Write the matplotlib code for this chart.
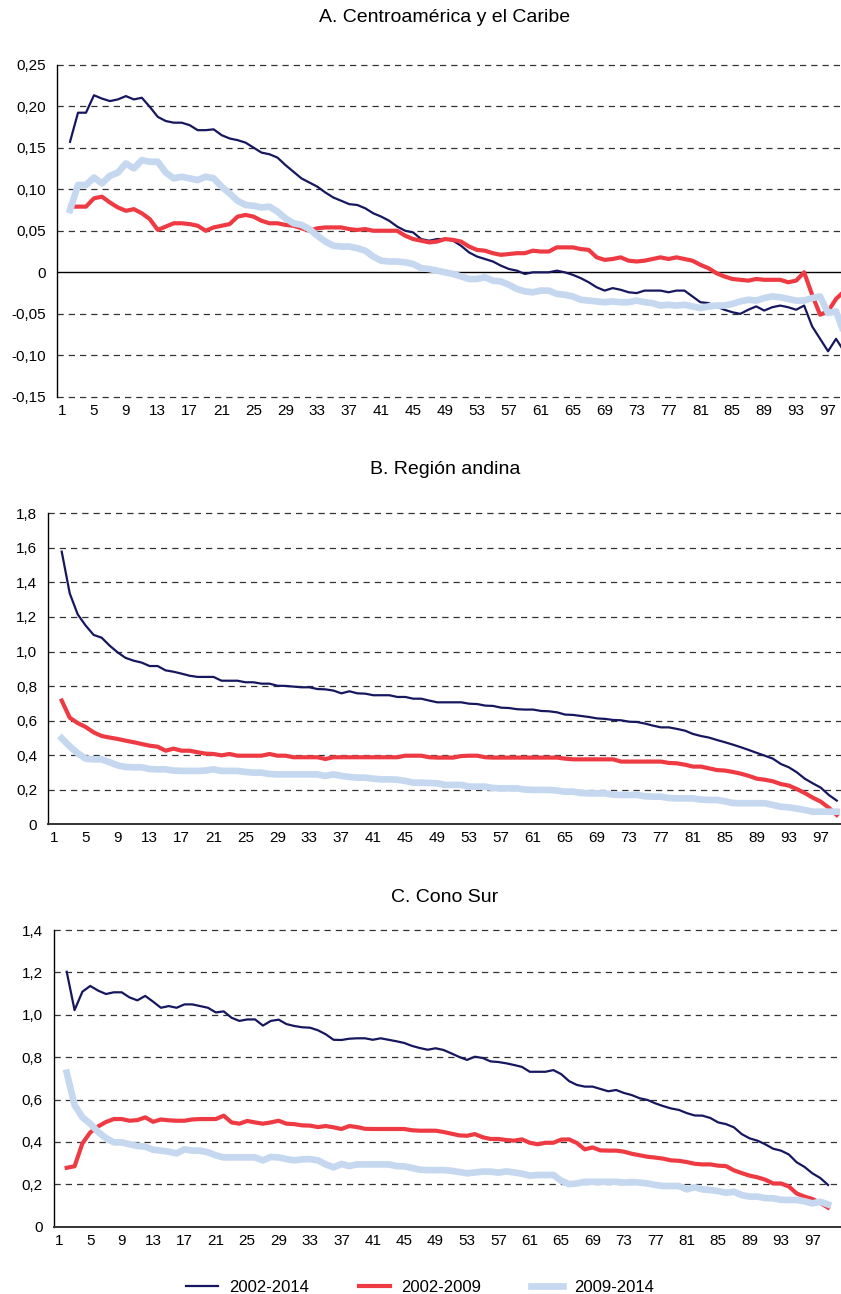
import numpy as np
import matplotlib
matplotlib.use('Agg')
import matplotlib.pyplot as plt
from matplotlib.ticker import FuncFormatter

plt.rcParams['font.family'] = ['Liberation Sans', 'DejaVu Sans']

# percentiles shown (first percentile not plotted)
percentiles = list(range(2, 100))
xtick_labels = list(range(1, 98, 4))
series_names = ['2002-2014', '2002-2009', '2009-2014']

# A. Centroamerica y el Caribe
a_2002_2014 = [0.157, 0.192, 0.192, 0.213, 0.209, 0.206, 0.208, 0.212, 0.208, 0.210,
               0.199, 0.187, 0.182, 0.180, 0.180, 0.177, 0.171, 0.171, 0.172, 0.165,
               0.161, 0.159, 0.156, 0.150, 0.144, 0.142, 0.138, 0.129, 0.121, 0.113,
               0.108, 0.103, 0.096, 0.090, 0.086, 0.082, 0.081, 0.077, 0.071, 0.067,
               0.062, 0.055, 0.050, 0.048, 0.040, 0.038, 0.040, 0.040, 0.038, 0.032,
               0.024, 0.019, 0.016, 0.013, 0.008, 0.004, 0.002, -0.002, 0.000, 0.000,
               0.000, 0.002, 0.000, -0.003, -0.007, -0.012, -0.018, -0.022, -0.019, -0.021,
               -0.024, -0.025, -0.022, -0.022, -0.022, -0.024, -0.022, -0.022, -0.029, -0.036,
               -0.037, -0.041, -0.045, -0.048, -0.050, -0.045, -0.041, -0.046, -0.042, -0.040,
               -0.042, -0.045, -0.040, -0.065, -0.080, -0.095, -0.080, -0.095]
a_2002_2009 = [0.079, 0.079, 0.079, 0.089, 0.091, 0.084, 0.078, 0.074, 0.076, 0.071,
               0.064, 0.051, 0.055, 0.059, 0.059, 0.058, 0.056, 0.050, 0.054, 0.056,
               0.058, 0.067, 0.069, 0.067, 0.062, 0.059, 0.059, 0.057, 0.056, 0.053,
               0.050, 0.053, 0.054, 0.054, 0.054, 0.052, 0.051, 0.052, 0.050, 0.050,
               0.050, 0.050, 0.044, 0.040, 0.038, 0.036, 0.037, 0.040, 0.039, 0.037,
               0.031, 0.027, 0.026, 0.023, 0.021, 0.022, 0.023, 0.023, 0.026, 0.025,
               0.025, 0.030, 0.030, 0.030, 0.028, 0.027, 0.018, 0.015, 0.016, 0.018,
               0.014, 0.013, 0.014, 0.016, 0.018, 0.016, 0.018, 0.016, 0.014, 0.009,
               0.005, -0.001, -0.005, -0.008, -0.009, -0.010, -0.008, -0.009, -0.009, -0.009,
               -0.012, -0.010, 0.000, -0.027, -0.051, -0.047, -0.032, -0.023]
a_2009_2014 = [0.075, 0.105, 0.105, 0.114, 0.107, 0.116, 0.120, 0.131, 0.125, 0.135,
               0.133, 0.133, 0.120, 0.113, 0.115, 0.113, 0.111, 0.115, 0.113, 0.103,
               0.095, 0.086, 0.081, 0.080, 0.078, 0.079, 0.073, 0.065, 0.059, 0.057,
               0.052, 0.044, 0.037, 0.032, 0.031, 0.031, 0.029, 0.026, 0.019, 0.014,
               0.013, 0.013, 0.012, 0.010, 0.005, 0.004, 0.002, 0.000, -0.002, -0.005,
               -0.008, -0.008, -0.006, -0.010, -0.011, -0.015, -0.020, -0.023, -0.024, -0.022,
               -0.022, -0.026, -0.027, -0.029, -0.033, -0.034, -0.035, -0.036, -0.035, -0.036,
               -0.036, -0.034, -0.036, -0.037, -0.040, -0.039, -0.040, -0.039, -0.041, -0.043,
               -0.041, -0.040, -0.040, -0.038, -0.035, -0.033, -0.034, -0.031, -0.029, -0.030,
               -0.032, -0.034, -0.034, -0.031, -0.029, -0.049, -0.047, -0.073]

# B. Region andina
b_2002_2014 = [1.578, 1.337, 1.215, 1.150, 1.096, 1.080, 1.034, 0.995, 0.963, 0.947,
               0.936, 0.916, 0.916, 0.891, 0.883, 0.872, 0.860, 0.853, 0.853, 0.853,
               0.831, 0.831, 0.831, 0.822, 0.822, 0.814, 0.814, 0.802, 0.801, 0.797,
               0.793, 0.793, 0.783, 0.781, 0.774, 0.758, 0.770, 0.758, 0.756, 0.747,
               0.747, 0.747, 0.737, 0.737, 0.727, 0.727, 0.716, 0.706, 0.706, 0.706,
               0.706, 0.698, 0.696, 0.687, 0.685, 0.675, 0.673, 0.666, 0.664, 0.664,
               0.656, 0.654, 0.648, 0.635, 0.633, 0.627, 0.621, 0.613, 0.610, 0.604,
               0.602, 0.594, 0.592, 0.583, 0.571, 0.561, 0.561, 0.552, 0.542, 0.523,
               0.511, 0.502, 0.488, 0.475, 0.461, 0.446, 0.430, 0.413, 0.397, 0.380,
               0.349, 0.330, 0.301, 0.264, 0.237, 0.212, 0.170, 0.137]
b_2002_2009 = [0.716, 0.617, 0.586, 0.563, 0.532, 0.511, 0.502, 0.494, 0.484, 0.475,
               0.465, 0.455, 0.449, 0.426, 0.438, 0.426, 0.426, 0.417, 0.409, 0.407,
               0.399, 0.407, 0.397, 0.397, 0.397, 0.397, 0.407, 0.397, 0.397, 0.388,
               0.388, 0.388, 0.388, 0.378, 0.388, 0.388, 0.388, 0.388, 0.388, 0.388,
               0.388, 0.388, 0.388, 0.397, 0.397, 0.397, 0.388, 0.386, 0.386, 0.386,
               0.395, 0.397, 0.397, 0.388, 0.386, 0.386, 0.386, 0.386, 0.386, 0.386,
               0.386, 0.386, 0.386, 0.380, 0.376, 0.376, 0.376, 0.376, 0.376, 0.376,
               0.363, 0.363, 0.363, 0.363, 0.363, 0.363, 0.355, 0.353, 0.345, 0.334,
               0.334, 0.324, 0.314, 0.311, 0.303, 0.293, 0.280, 0.264, 0.258, 0.249,
               0.233, 0.224, 0.204, 0.181, 0.154, 0.131, 0.096, 0.054]
b_2009_2014 = [0.498, 0.451, 0.411, 0.380, 0.376, 0.376, 0.359, 0.341, 0.332, 0.330,
               0.330, 0.320, 0.318, 0.318, 0.311, 0.309, 0.309, 0.309, 0.311, 0.318,
               0.309, 0.309, 0.309, 0.303, 0.299, 0.299, 0.291, 0.289, 0.289, 0.289,
               0.289, 0.289, 0.289, 0.280, 0.289, 0.280, 0.274, 0.270, 0.270, 0.264,
               0.260, 0.260, 0.258, 0.251, 0.241, 0.241, 0.239, 0.237, 0.228, 0.228,
               0.228, 0.218, 0.218, 0.218, 0.210, 0.208, 0.208, 0.208, 0.201, 0.199,
               0.199, 0.199, 0.195, 0.189, 0.189, 0.181, 0.179, 0.179, 0.179, 0.172,
               0.170, 0.170, 0.170, 0.162, 0.160, 0.160, 0.152, 0.150, 0.150, 0.150,
               0.143, 0.141, 0.141, 0.133, 0.123, 0.122, 0.122, 0.122, 0.122, 0.112,
               0.102, 0.098, 0.091, 0.083, 0.073, 0.073, 0.073, 0.073]

# C. Cono Sur
c_2002_2014 = [1.203, 1.022, 1.109, 1.136, 1.114, 1.098, 1.106, 1.106, 1.082, 1.068,
               1.089, 1.062, 1.033, 1.041, 1.033, 1.049, 1.049, 1.041, 1.033, 1.011,
               1.016, 0.986, 0.971, 0.978, 0.978, 0.949, 0.971, 0.977, 0.956, 0.947,
               0.941, 0.939, 0.927, 0.908, 0.882, 0.881, 0.887, 0.889, 0.889, 0.882,
               0.889, 0.882, 0.875, 0.867, 0.853, 0.843, 0.835, 0.842, 0.834, 0.818,
               0.801, 0.787, 0.802, 0.796, 0.780, 0.777, 0.771, 0.763, 0.754, 0.731,
               0.731, 0.731, 0.739, 0.720, 0.687, 0.669, 0.661, 0.661, 0.650, 0.639,
               0.645, 0.631, 0.621, 0.606, 0.598, 0.582, 0.569, 0.558, 0.551, 0.536,
               0.525, 0.524, 0.513, 0.492, 0.484, 0.469, 0.437, 0.417, 0.406, 0.389,
               0.368, 0.359, 0.341, 0.304, 0.282, 0.252, 0.230, 0.197]
c_2002_2009 = [0.278, 0.285, 0.393, 0.445, 0.473, 0.494, 0.508, 0.508, 0.500, 0.503,
               0.516, 0.495, 0.506, 0.502, 0.500, 0.500, 0.506, 0.508, 0.508, 0.508,
               0.524, 0.492, 0.486, 0.499, 0.492, 0.486, 0.492, 0.500, 0.486, 0.484,
               0.478, 0.477, 0.470, 0.475, 0.469, 0.461, 0.475, 0.470, 0.462, 0.461,
               0.461, 0.461, 0.461, 0.461, 0.455, 0.453, 0.453, 0.453, 0.447, 0.439,
               0.431, 0.429, 0.437, 0.422, 0.414, 0.414, 0.409, 0.406, 0.412, 0.396,
               0.389, 0.396, 0.396, 0.411, 0.412, 0.395, 0.365, 0.374, 0.360, 0.359,
               0.359, 0.354, 0.344, 0.337, 0.330, 0.326, 0.321, 0.313, 0.311, 0.305,
               0.297, 0.294, 0.294, 0.288, 0.286, 0.266, 0.253, 0.241, 0.233, 0.222,
               0.204, 0.204, 0.190, 0.157, 0.142, 0.131, 0.112, 0.090]
c_2009_2014 = [0.727, 0.574, 0.516, 0.486, 0.447, 0.418, 0.398, 0.398, 0.389, 0.381,
               0.378, 0.363, 0.359, 0.354, 0.346, 0.365, 0.359, 0.359, 0.351, 0.337,
               0.327, 0.327, 0.327, 0.327, 0.327, 0.313, 0.329, 0.327, 0.319, 0.313,
               0.318, 0.319, 0.313, 0.294, 0.280, 0.296, 0.286, 0.294, 0.294, 0.294,
               0.294, 0.294, 0.286, 0.285, 0.277, 0.269, 0.267, 0.267, 0.267, 0.264,
               0.258, 0.252, 0.256, 0.260, 0.260, 0.255, 0.261, 0.256, 0.250, 0.241,
               0.244, 0.244, 0.244, 0.217, 0.201, 0.204, 0.212, 0.212, 0.212, 0.212,
               0.212, 0.208, 0.211, 0.208, 0.204, 0.197, 0.192, 0.192, 0.192, 0.176,
               0.186, 0.176, 0.173, 0.168, 0.160, 0.165, 0.149, 0.142, 0.142, 0.135,
               0.134, 0.127, 0.126, 0.126, 0.120, 0.110, 0.118, 0.105]

colors = ['#16175e', '#ee3a43', '#c5d8f0']
widths = [1.6, 3.0, 4.8]

W, H = 841, 1294
fig = plt.figure(figsize=(W / 100, H / 100), dpi=100)


def px_rect(left, top, right, bottom):
    return [left / W, 1 - bottom / H, (right - left) / W, (bottom - top) / H]


panels = [
    dict(title='A. Centroamérica y el Caribe', data=[a_2002_2014, a_2002_2009, a_2009_2014],
         rect=px_rect(56.7, 64.5, 841, 397), xlim=(0.33, 98.62), ylim=(-0.15, 0.25),
         yticks=np.arange(-0.15, 0.2501, 0.05), fmt='{:.2f}', zero_line=True, title_y=18),
    dict(title='B. Región andina', data=[b_2002_2014, b_2002_2009, b_2009_2014],
         rect=px_rect(48.3, 513.3, 841, 824.3), xlim=(0.32, 99.53), ylim=(0, 1.8),
         yticks=np.arange(0, 1.801, 0.2), fmt='{:.1f}', zero_line=False, title_y=470),
    dict(title='C. Cono Sur', data=[c_2002_2014, c_2002_2009, c_2009_2014],
         rect=px_rect(54, 930, 841, 1226.7), xlim=(0.38, 100.65), ylim=(0, 1.4),
         yticks=np.arange(0, 1.401, 0.2), fmt='{:.1f}', zero_line=False, title_y=898),
]

handles = []
for p in panels:
    ax = fig.add_axes(p['rect'])
    handles = []
    for vals, c, lw, name in zip(p['data'], colors, widths, series_names):
        h, = ax.plot(percentiles, vals, color=c, lw=lw, label=name,
                     solid_joinstyle='round')
        handles.append(h)
    ax.set_xlim(*p['xlim'])
    ax.set_ylim(*p['ylim'])
    ax.set_yticks(p['yticks'])
    ax.yaxis.set_major_formatter(FuncFormatter(
        lambda v, pos, f=p['fmt']: '0' if abs(v) < 1e-9 else f.format(v).replace('.', ',')))
    ax.set_xticks(xtick_labels)
    ax.set_xticklabels([str(v) for v in xtick_labels])
    ax.tick_params(axis='both', length=0, labelsize=11, colors='#000000')
    ax.tick_params(axis='y', pad=8)
    ax.tick_params(axis='x', pad=5)
    for s in ['top', 'right']:
        ax.spines[s].set_visible(False)
    ax.spines['left'].set_linewidth(1.0)
    ax.spines['left'].set_color('#000000')

    # dashed horizontal gridlines
    for yv in p['yticks']:
        if abs(yv) < 1e-9:
            continue
        ax.axhline(yv, color='#333333', lw=0.9, dashes=(5, 4), zorder=0, clip_on=False)
    if p['zero_line']:
        ax.spines['bottom'].set_visible(False)
        ax.axhline(0, color='#000000', lw=1.0, zorder=1)
    else:
        ax.spines['bottom'].set_linewidth(1.4)
        ax.spines['bottom'].set_color('#333333')

    fig.text(445 / W, 1 - p['title_y'] / H, p['title'], ha='center', va='center', fontsize=14)

fig.legend(handles, series_names, loc='center', bbox_to_anchor=(420 / W, 1 - 1287 / H),
           ncol=3, frameon=False, fontsize=12, handlelength=1.9, handletextpad=0.65,
           columnspacing=3.0)

fig.savefig('out.png', dpi=100)
